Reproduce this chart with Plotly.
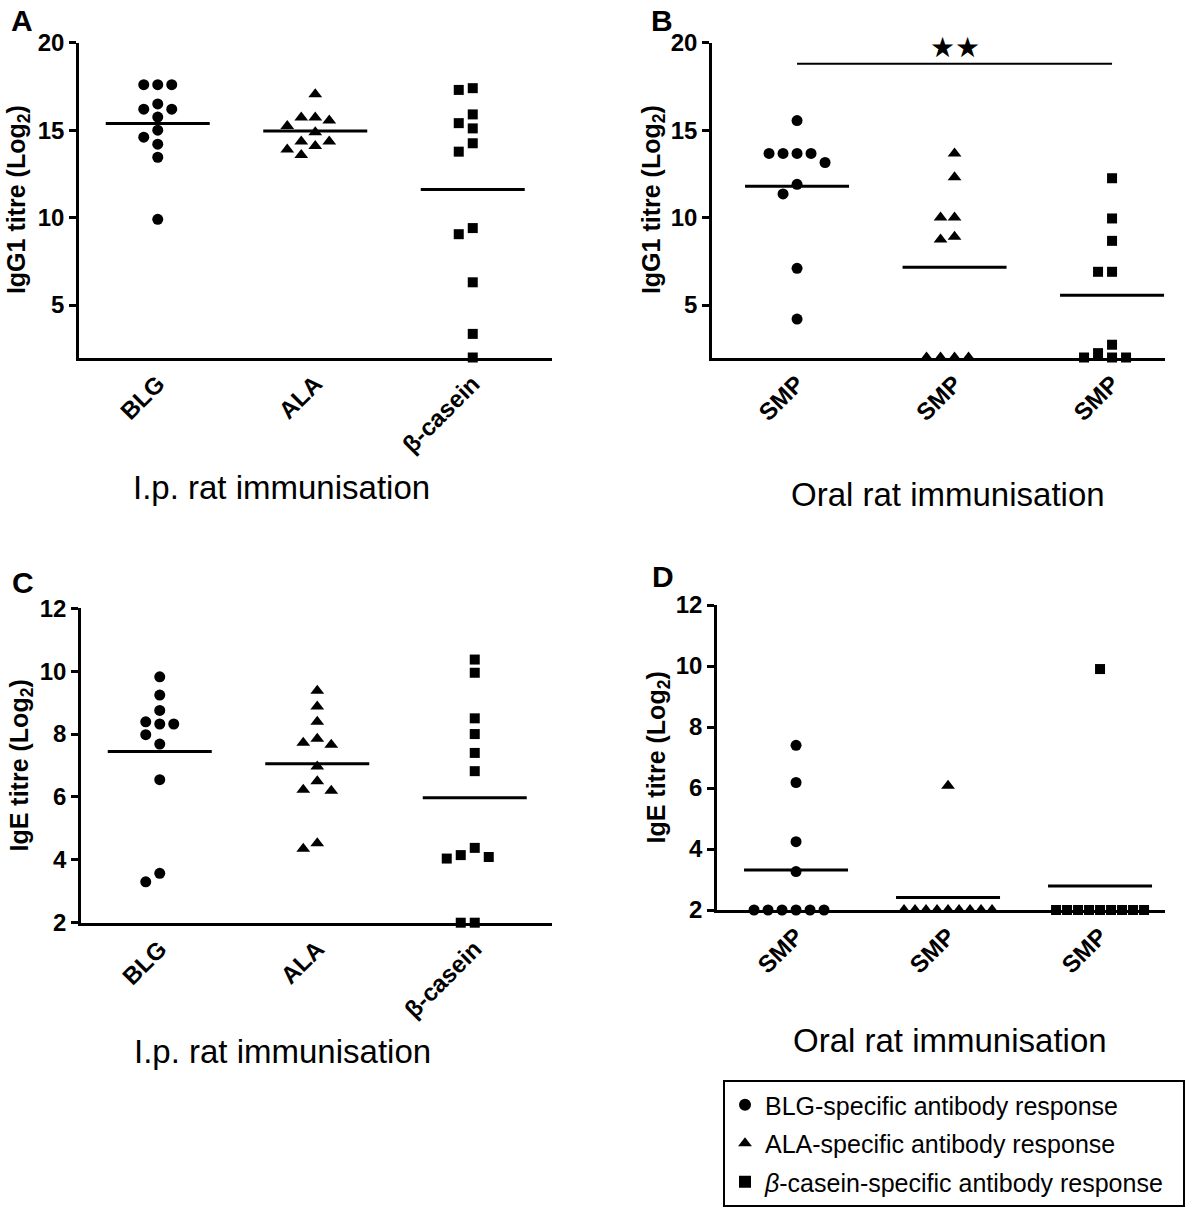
import numpy as np
import plotly.graph_objects as go

W, H = 1200, 1216
FONT = "Liberation Sans, Arial, sans-serif"

# ---------------- data ----------------
CATS_IP = ["BLG", "ALA", "β-casein"]
CATS_ORAL = ["SMP", "SMP", "SMP"]
SERIES = ["BLG-specific antibody response",
          "ALA-specific antibody response",
          "<i>β</i>-casein-specific antibody response"]

# Panel A: IgG1, i.p.
A_BLG = [17.6, 17.6, 17.6, 16.5, 16.2, 16.2, 15.75, 15.0, 14.6, 14.2, 13.45, 9.9]
A_ALA = [17.05, 15.72, 15.72, 15.55, 15.24, 14.88, 14.35, 14.35, 14.1, 13.9, 13.58]
A_CAS = [17.4, 17.3, 15.9, 15.4, 15.1, 14.25, 13.77, 9.4, 9.05, 6.3, 3.35, 2.0]
# Panel B: IgG1, oral
B_BLG = [15.55, 13.67, 13.67, 13.67, 13.67, 13.15, 11.9, 11.35, 7.1, 4.2]
B_ALA = [13.67, 12.3, 10.0, 10.0, 8.9, 8.75, 2.0, 2.0, 2.0, 2.0]
B_CAS = [12.25, 9.95, 8.67, 6.9, 6.9, 2.73, 2.25, 2.0, 2.0, 2.0]
# Panel C: IgE, i.p.
C_BLG = [9.82, 9.24, 8.75, 8.39, 8.32, 8.32, 7.98, 7.68, 6.55, 3.57, 3.3]
C_ALA = [9.38, 8.88, 8.39, 7.85, 7.72, 7.66, 6.97, 6.5, 6.23, 6.2, 4.53, 4.35]
C_CAS = [10.37, 9.95, 8.5, 8.0, 7.4, 6.82, 4.38, 4.15, 4.09, 4.04, 2.0, 2.0]
# Panel D: IgE, oral
D_BLG = [7.4, 6.18, 4.24, 3.26, 2.0, 2.0, 2.0, 2.0, 2.0, 2.0]
D_ALA = [6.07, 2.0, 2.0, 2.0, 2.0, 2.0, 2.0, 2.0, 2.0, 2.0]
D_CAS = [9.9, 2.0, 2.0, 2.0, 2.0, 2.0, 2.0, 2.0, 2.0, 2.0]

YT_IGG = [5, 10, 15, 20]
YT_IGE = [2, 4, 6, 8, 10, 12]
SIG_STARS = "★★"

# ---------------- layout geometry (pixels) ----------------
PANELS = [
    dict(key="A", data=[A_BLG, A_ALA, A_CAS], cats=CATS_IP, yr=[2, 20], yt=YT_IGG,
         left=79, right=552, top=42.7, bottom=357.5, x0=0.5, col=157.5,
         ytitle="IgG1 titre (Log<sub>2</sub>)", ytitle_x=18,
         xtitle="I.p. rat immunisation", xtitle_xy=(281, 487), letter_xy=(22, 20)),
    dict(key="B", data=[B_BLG, B_ALA, B_CAS], cats=CATS_ORAL, yr=[2, 20], yt=YT_IGG,
         left=712, right=1165, top=42.7, bottom=357.5, x0=0.46, col=157.5,
         ytitle="IgG1 titre (Log<sub>2</sub>)", ytitle_x=653,
         xtitle="Oral rat immunisation", xtitle_xy=(948, 494), letter_xy=(662, 20)),
    dict(key="C", data=[C_BLG, C_ALA, C_CAS], cats=CATS_IP, yr=[2, 12], yt=YT_IGE,
         left=81, right=552, top=608.3, bottom=922.7, x0=0.5, col=157.5,
         ytitle="IgE titre (Log<sub>2</sub>)", ytitle_x=20,
         xtitle="I.p. rat immunisation", xtitle_xy=(282, 1051), letter_xy=(23, 582)),
    dict(key="D", data=[D_BLG, D_ALA, D_CAS], cats=CATS_ORAL, yr=[2, 12], yt=YT_IGE,
         left=717, right=1165, top=605, bottom=910, x0=0.48, col=152.0,
         ytitle="IgE titre (Log<sub>2</sub>)", ytitle_x=657,
         xtitle="Oral rat immunisation", xtitle_xy=(950, 1040), letter_xy=(663, 577)),
]
MEAN_HALF_PX = 52    # half width of the mean bar
SYMBOLS = ["circle", "triangle-up", "square"]
SIZES = [11, 12, 10]


def swarm(values, ppu, slot_px=14.0, thresh=12.0, max_half=44.0):
    """Deterministic beeswarm offsets (pixels) for one column."""
    vals = np.asarray(values, dtype=float)
    order = np.argsort(-vals, kind="stable")
    cand = [0] + [s for k in range(1, 30) for s in (-k, k)]
    placed, slots = [], [0] * len(vals)
    for i in order:
        y = vals[i] * ppu
        for s in cand:
            if all(not (ps == s and abs(py - y) < thresh) for ps, py in placed):
                slots[i] = s
                placed.append((s, y))
                break
    m = max(abs(s) for s in slots) or 1
    spacing = min(slot_px, max_half / m)
    return np.array(slots) * spacing


fig = go.Figure()
annotations = []
layout_axes = {}

for pi, p in enumerate(PANELS):
    n = "" if pi == 0 else str(pi + 1)
    xref, yref = "x" + n, "y" + n
    col = p["col"]
    xmax = p["x0"] + (p["right"] - p["left"]) / col
    ppu_y = (p["bottom"] - p["top"]) / (p["yr"][1] - p["yr"][0])

    for gi, vals in enumerate(p["data"]):
        offs = swarm(vals, ppu_y) / col
        xs = (gi + 1) + offs
        fig.add_trace(go.Scatter(
            x=xs, y=vals, mode="markers", xaxis=xref, yaxis=yref,
            marker=dict(symbol=SYMBOLS[gi], size=SIZES[gi], color="black", line=dict(width=0)),
            name=SERIES[gi] + "&nbsp;&nbsp;", legendgroup=SERIES[gi], showlegend=(pi == 0),
            cliponaxis=False, hoverinfo="y"))
        mean = float(np.mean(vals))
        half = MEAN_HALF_PX / col
        fig.add_trace(go.Scatter(
            x=[gi + 1 - half, gi + 1 + half], y=[mean, mean], mode="lines",
            xaxis=xref, yaxis=yref, line=dict(color="black", width=3),
            showlegend=False, hoverinfo="skip"))

    layout_axes["xaxis" + n] = dict(
        domain=[p["left"] / W, p["right"] / W], anchor=yref, range=[p["x0"], xmax],
        automargin=False,
        showline=True, linecolor="black", linewidth=2.5, ticks="", showgrid=False, zeroline=False,
        tickvals=[1, 2, 3], ticktext=p["cats"], tickangle=-45,
        tickfont=dict(family=FONT, size=24, color="black", weight="bold"), fixedrange=True)
    layout_axes["yaxis" + n] = dict(
        domain=[1 - p["bottom"] / H, 1 - p["top"] / H], anchor=xref, range=p["yr"],
        automargin=False,
        showline=True, linecolor="black", linewidth=2.5, ticks="outside", ticklen=7,
        tickwidth=2.5, tickcolor="black", showgrid=False, zeroline=False, tickvals=p["yt"],
        tickfont=dict(family=FONT, size=24, color="black", weight="bold"), fixedrange=True)

    # y-axis title
    annotations.append(dict(
        text=p["ytitle"], textangle=-90, xref="paper", yref="paper",
        x=p["ytitle_x"] / W, y=1 - (p["top"] + p["bottom"]) / 2 / H,
        xanchor="center", yanchor="middle", showarrow=False,
        font=dict(family=FONT, size=25, color="black", weight="bold")))
    # x-axis title
    annotations.append(dict(
        text=p["xtitle"], xref="paper", yref="paper",
        x=p["xtitle_xy"][0] / W, y=1 - p["xtitle_xy"][1] / H,
        xanchor="center", yanchor="middle", showarrow=False,
        font=dict(family=FONT, size=33, color="black")))
    # panel letter
    annotations.append(dict(
        text="<b>%s</b>" % p["key"], xref="paper", yref="paper",
        x=p["letter_xy"][0] / W, y=1 - p["letter_xy"][1] / H,
        xanchor="center", yanchor="middle", showarrow=False,
        font=dict(family=FONT, size=30, color="black")))

# significance bar in panel B (between BLG and beta-casein columns)
SIG_Y = 18.8
fig.add_trace(go.Scatter(x=[1, 3], y=[SIG_Y, SIG_Y], mode="lines", xaxis="x2", yaxis="y2",
                         line=dict(color="black", width=2), showlegend=False, hoverinfo="skip"))
annotations.append(dict(text=SIG_STARS, x=2, y=19.7, xref="x2", yref="y2", showarrow=False,
                        font=dict(family="DejaVu Sans", size=28, color="black")))

fig.update_layout(
    width=W, height=H, autosize=False, margin=dict(l=0, r=0, t=0, b=0),
    paper_bgcolor="white", plot_bgcolor="white", annotations=annotations,
    showlegend=True,
    legend=dict(x=723 / W, y=1 - 1080 / H, xanchor="left", yanchor="top",
                bordercolor="black", borderwidth=2, bgcolor="white",
                font=dict(family=FONT, size=25, color="black"),
                itemsizing="constant", tracegroupgap=3),
    **layout_axes)

fig.write_html("out.html", config={"displayModeBar": False},
               post_script="document.body.style.margin='0';document.body.style.overflow='hidden';")
